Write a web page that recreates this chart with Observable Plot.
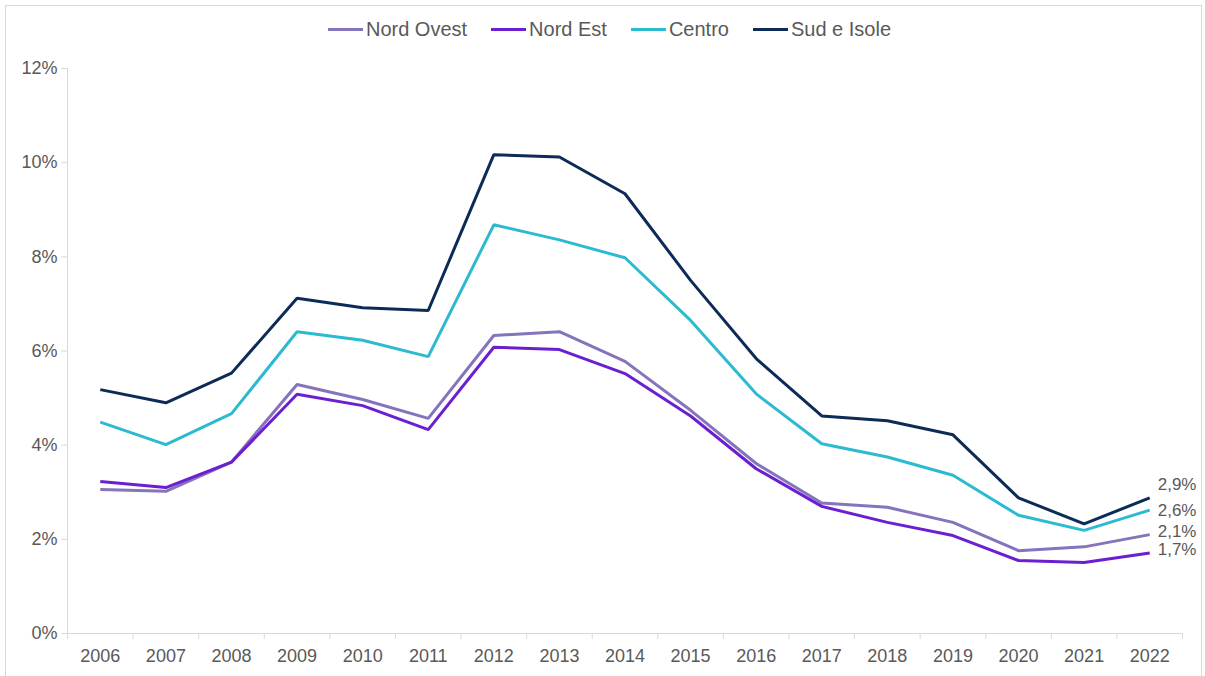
<!DOCTYPE html>
<html>
<head>
<meta charset="utf-8">
<script src="https://cdn.jsdelivr.net/npm/d3@7"></script>
<script src="https://cdn.jsdelivr.net/npm/@observablehq/plot@0.6"></script>
<style>
  html, body { margin: 0; padding: 0; background: #fff; }
  body { width: 1205px; height: 676px; overflow: hidden; position: relative; font-family: "Liberation Sans", Arial, sans-serif; }
  #frame { position: absolute; left: 5px; top: 5px; width: 1197px; height: 720px; border: 1px solid #d9d9d9; box-sizing: border-box; pointer-events: none; }
  #legend { height: 48px; display: flex; justify-content: center; align-items: center; gap: 24px; color: #595959; font-size: 20px; padding-top: 10px; box-sizing: border-box; padding-left: 14px; }
  .item { display: flex; align-items: center; }
  .sw { width: 35px; height: 3px; margin-right: 3px; }
  #chart svg { display: block; }
</style>
</head>
<body>
<div id="frame"></div>
<div id="legend"></div>
<div id="chart"></div>
<script>
const years = [2006,2007,2008,2009,2010,2011,2012,2013,2014,2015,2016,2017,2018,2019,2020,2021,2022];
const seriesNames = ["Nord Ovest", "Nord Est", "Centro", "Sud e Isole"];
const colors = ["#8573bc", "#6b1fd0", "#2cbad1", "#0c2b56"];
const nordOvest = [3.06,3.02,3.64,5.29,4.97,4.57,6.33,6.41,5.78,4.74,3.61,2.77,2.68,2.36,1.76,1.84,2.10];
const nordEst   = [3.23,3.10,3.64,5.08,4.84,4.33,6.08,6.03,5.52,4.62,3.50,2.70,2.36,2.08,1.55,1.51,1.71];
const centro    = [4.49,4.01,4.67,6.41,6.23,5.88,8.68,8.36,7.98,6.65,5.09,4.03,3.75,3.36,2.51,2.19,2.62];
const sudIsole  = [5.18,4.90,5.53,7.12,6.92,6.86,10.17,10.12,9.34,7.50,5.84,4.62,4.52,4.22,2.88,2.33,2.88];
const yTicks = [0,2,4,6,8,10,12];

const allSeries = [nordOvest, nordEst, centro, sudIsole];
const rows = [];
seriesNames.forEach((name, i) => {
  years.forEach((yr, j) => rows.push({series: name, year: yr, value: allSeries[i][j]}));
});
const lastRows = seriesNames.map((name, i) => ({series: name, year: years[years.length - 1], value: allSeries[i][years.length - 1]}));
const labelDy = {"Sud e Isole": -13, "Centro": 0, "Nord Ovest": -3, "Nord Est": -3};
const fmt = v => v.toFixed(1).replace(".", ",") + "%";

const boundaries = years.map(y => y - 0.5).concat([years[years.length - 1] + 0.5]);

// legend
const legend = document.getElementById("legend");
seriesNames.forEach((name, i) => {
  const it = document.createElement("div");
  it.className = "item";
  const sw = document.createElement("div");
  sw.className = "sw";
  sw.style.background = colors[i];
  const t = document.createElement("span");
  t.textContent = name;
  it.appendChild(sw); it.appendChild(t);
  legend.appendChild(it);
});

const grid = "#d9d9d9";
const txt = "#595959";

const plot = Plot.plot({
  width: 1205,
  height: 628,
  marginLeft: 67,
  marginRight: 23,
  marginTop: 20,
  marginBottom: 43,
  style: {fontFamily: "'Liberation Sans', Arial, sans-serif", fontSize: "18px", color: txt, background: "transparent"},
  x: {domain: [years[0] - 0.5, years[years.length - 1] + 0.5], axis: null, label: null},
  y: {domain: [0, 12], axis: null, label: null},
  color: {domain: seriesNames, range: colors},
  marks: [
    Plot.ruleX([years[0] - 0.5], {stroke: grid, strokeWidth: 1}),
    Plot.ruleY([0], {stroke: grid, strokeWidth: 1}),
    Plot.axisY(yTicks, {tickSize: 6, tickPadding: 4, stroke: grid, fill: txt, tickFormat: d => d + "%", fontSize: 18, label: null}),
    Plot.axisX(boundaries, {tickSize: 6, stroke: grid, tickFormat: () => "", label: null}),
    Plot.axisX(years, {tickSize: 0, tickPadding: 16, fill: txt, tickFormat: d => String(d), fontSize: 18, label: null}),
    Plot.line(rows, {x: "year", y: "value", z: "series", stroke: "series", strokeWidth: 3, strokeLinejoin: "miter", strokeLinecap: "butt"}),
    ...lastRows.map(r => Plot.text([r], {x: "year", y: "value", text: d => fmt(d.value), dx: 8, dy: labelDy[r.series], textAnchor: "start", fill: txt, fontSize: 17}))
  ]
});
document.getElementById("chart").appendChild(plot);
</script>
</body>
</html>
